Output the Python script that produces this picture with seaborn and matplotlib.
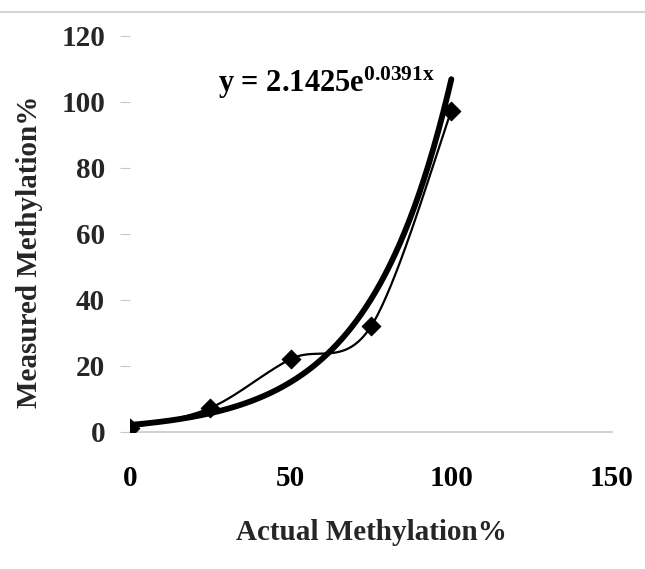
import numpy as np
import pandas as pd
import matplotlib
matplotlib.use("Agg")
import matplotlib.pyplot as plt
import seaborn as sns
from matplotlib.lines import Line2D

# ---- data ----
actual = [0, 25, 50, 75, 100]
measured = [1.2, 7.3, 22.1, 32.0, 97.3]
trend_a = 2.1425
trend_b = 0.0391
x_ticks = [0, 50, 100, 150]
y_ticks = [0, 20, 40, 60, 80, 100, 120]
x_label = "Actual Methylation%"
y_label = "Measured Methylation%"

sns.set_theme(style="white")
plt.rcParams["font.family"] = ["Liberation Serif", "DejaVu Serif"]
plt.rcParams["font.weight"] = "bold"
plt.rcParams["mathtext.fontset"] = "custom"
plt.rcParams["mathtext.rm"] = "Liberation Serif:bold"
plt.rcParams["mathtext.it"] = "Liberation Serif:bold"
plt.rcParams["mathtext.bf"] = "Liberation Serif:bold"

W, H = 645, 569
fig = plt.figure(figsize=(W / 100, H / 100), dpi=100)
ax = fig.add_axes([130 / W, (H - 432) / H, (612 - 130) / W, (432 - 36) / H])

df = pd.DataFrame({"actual": actual, "measured": measured})

# Excel-style smoothed line (Catmull-Rom Bezier) through the points
P = np.column_stack([actual, measured]).astype(float)
n = len(P)
curve = []
t = np.linspace(0, 1, 40)
for i in range(n - 1):
    p0 = P[i]
    p3 = P[i + 1]
    pm = P[i - 1] if i > 0 else P[i]
    pp = P[i + 2] if i + 2 < n else P[i + 1]
    b1 = p0 + (p3 - pm) / 6
    b2 = p3 - (pp - p0) / 6
    seg = ((1 - t) ** 3)[:, None] * p0 + (3 * (1 - t) ** 2 * t)[:, None] * b1 \
        + (3 * (1 - t) * t ** 2)[:, None] * b2 + (t ** 3)[:, None] * p3
    curve.append(seg)
curve = np.vstack(curve)
ax.plot(curve[:, 0], curve[:, 1], color="black", lw=1.6, zorder=3)

# exponential trendline
tx = np.linspace(actual[0], actual[-1], 200)
trend = pd.DataFrame({"x": tx, "y": trend_a * np.exp(trend_b * tx)})
sns.lineplot(data=trend, x="x", y="y", ax=ax, color="black", lw=4.2, zorder=4)

sns.scatterplot(data=df, x="actual", y="measured", ax=ax, marker="D",
                s=90, color="black", edgecolor="black", zorder=5)

ax.text(27.5, 103, r"y = 2.1425e$^{0.0391x}$", fontsize=22, fontweight="bold",
        ha="left", va="baseline", color="black", zorder=6)

ax.set_xlim(0, 150)
ax.set_ylim(0, 120)
ax.set_xticks(x_ticks)
ax.set_yticks(y_ticks)
ax.set_xticklabels([str(v) for v in x_ticks], fontsize=21, fontweight="bold")
ax.set_yticklabels([str(v) for v in y_ticks], fontsize=21, fontweight="bold")
ax.tick_params(axis="x", length=0, pad=24, colors="black")
ax.tick_params(axis="y", length=7, width=0.8, color="#c8c8c8", pad=11, left=True)

for s in ["top", "right", "left"]:
    ax.spines[s].set_visible(False)
ax.spines["bottom"].set_color("#c8c8c8")
ax.spines["bottom"].set_linewidth(1.2)

ax.set_xlabel(x_label, fontsize=21, fontweight="bold")
ax.set_ylabel(y_label, fontsize=21, fontweight="bold")
ax.xaxis.set_label_coords(0.5, -0.22)
ax.yaxis.set_label_coords(-0.18, 0.455)

fig.add_artist(Line2D([0, 1], [1 - 12 / H, 1 - 12 / H], color="#d4d4d4", lw=1.5))

fig.savefig("out.png", dpi=100)
